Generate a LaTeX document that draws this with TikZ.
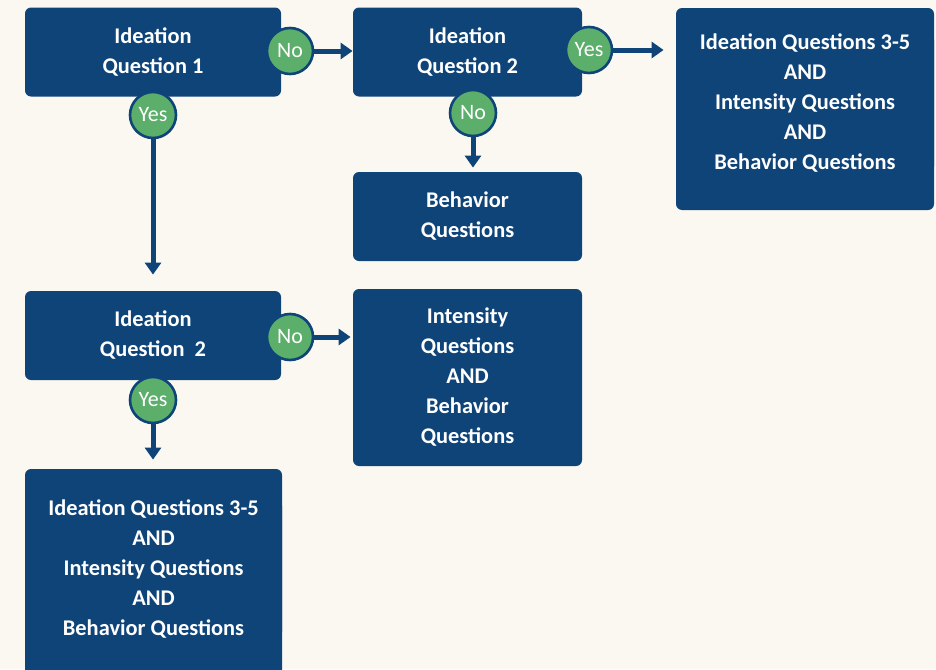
\documentclass[tikz,border=0pt]{standalone}
\usepackage{fontspec}
\setmainfont{Carlito}
\usepackage{xcolor}
\usetikzlibrary{arrows.meta,positioning,calc}
\definecolor{navy}{HTML}{0F4479}
\definecolor{leaf}{HTML}{5CAE6B}
\definecolor{paper}{HTML}{FBF8F1}

\begin{document}
\begin{tikzpicture}[x=0.5pt,y=-0.5pt,
                    box/.style={fill=navy,rounded corners=3pt,text=white,align=center,inner sep=0pt,
                                font=\bfseries\fontsize{11.2}{15}\selectfont},
                    answer/.style={circle,fill=leaf,draw=navy,line width=1.3pt,text=white,inner sep=0pt,
                                   minimum size=23pt,font=\fontsize{11}{12}\selectfont},
                    flow/.style={-{Triangle[length=6pt,width=8pt]},draw=navy,line width=2.5pt}]
\useasboundingbox[fill=paper] (0,0) rectangle (936,669);

\node[box,minimum width=128pt,minimum height=44.5pt] (IdeaOne) at (153,52) {Ideation\\Question 1};
\node[box,minimum width=114.5pt,minimum height=44.5pt] (IdeaTwoTop) at (467.5,52) {Ideation\\Question 2};
\node[box,minimum width=129pt,minimum height=101pt] (AllTop) at (805,109) {};
\node[box,minimum width=129pt] (AllTopText) at (805,103) {Ideation Questions 3-5\\AND\\Intensity Questions\\AND\\Behavior Questions};
\node[box,minimum width=114.5pt,minimum height=44.5pt] (Behavior) at (467.5,216.5) {Behavior\\Questions};
\node[box,minimum width=128pt,minimum height=44.5pt] (IdeaTwoLow) at (153,335.5) {Ideation\\Question~~2};
\node[box,minimum width=114.5pt,minimum height=88.5pt] (IntBeh) at (467.5,377.5) {Intensity\\Questions\\AND\\Behavior\\Questions};
\node[box,minimum width=128.5pt,minimum height=104pt] (AllLow) at (153.5,573) {};
\node[box,minimum width=128.5pt] (AllLowText) at (153.5,569) {Ideation Questions 3-5\\AND\\Intensity Questions\\AND\\Behavior Questions};

\node[answer] (NoOne) at (290,51) {No};
\node[answer] (YesOne) at (153,115) {Yes};
\node[answer] (YesTwo) at (589,50) {Yes};
\node[answer] (NoTwo) at (473,113) {No};
\node[answer] (NoThree) at (290,337) {No};
\node[answer] (YesThree) at (153,400) {Yes};

\draw[flow] (NoOne.east) -- (NoOne.east -| IdeaTwoTop.west);
\draw[flow,shorten >=6pt] (YesTwo.east) -- (YesTwo.east -| AllTop.west);
\draw[flow,shorten >=8pt] (YesOne.south) -- (YesOne.south |- IdeaTwoLow.north);
\draw[flow,shorten >=2pt] (NoTwo.south) -- (NoTwo.south |- Behavior.north);
\draw[flow,shorten >=1pt] (NoThree.east) -- (NoThree.east -| IntBeh.west);
\draw[flow,shorten >=4.5pt] (YesThree.south) -- (YesThree.south |- AllLow.north);

\end{tikzpicture}
\end{document}
